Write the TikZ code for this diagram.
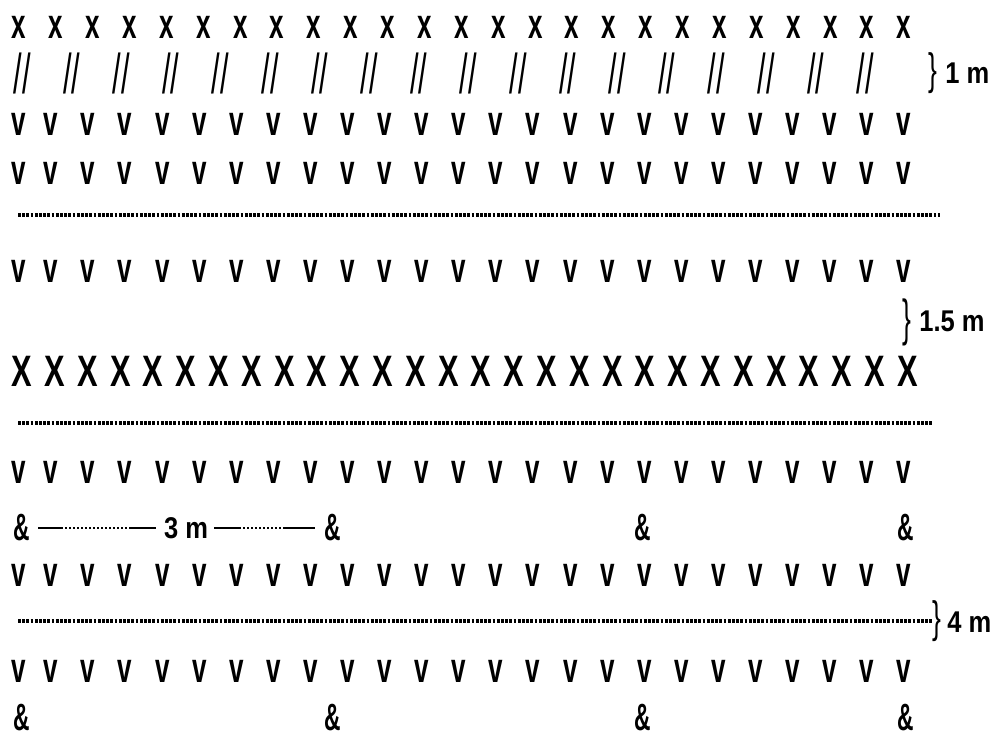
\documentclass[tikz,border=0pt]{standalone}
\usepackage{fontspec}
\setmainfont{Liberation Sans}
\begin{document}
\begin{tikzpicture}[x=0.5pt, y=-0.5pt,
    plant/.style={inner sep=0pt, xscale=0.62, font=\bfseries\fontsize{21}{21}\selectfont},
    hedge/.style={inner sep=0pt, xscale=0.7, font=\bfseries\fontsize{22}{22}\selectfont},
    stake/.style={inner sep=0pt, xscale=0.55, font=\fontsize{28}{28}\selectfont},
    tree/.style={inner sep=0pt, xscale=0.6, font=\bfseries\fontsize{19}{19}\selectfont},
    dimtext/.style={inner sep=0pt, xscale=0.85, font=\bfseries\fontsize{15}{15}\selectfont},
    brace/.style={inner sep=0pt, xscale=0.6, font=\fontsize{22}{22}\selectfont},
    rowline/.style={line width=1.9pt, dash pattern=on 1.4pt off 0.7pt},
    dimleft/.style={line width=1.1pt, shorten <=4pt, shorten >=4pt,
        dash pattern=on 12.5pt off 1pt on 1pt off 1pt on 1pt off 1pt on 1pt off 1pt on 1pt off 1pt
        on 1pt off 1pt on 1pt off 1pt on 1pt off 1pt on 1pt off 1pt on 1pt off 1pt on 1pt off 1pt
        on 1pt off 1pt on 1pt off 1pt on 1pt off 1pt on 1pt off 1pt on 1pt off 1pt on 1pt off 1pt
        on 30pt off 1pt},
    dimright/.style={line width=1.1pt, shorten <=3pt, shorten >=5pt,
        dash pattern=on 13.5pt off 1pt on 1pt off 1pt on 1pt off 1pt on 1pt off 1pt on 1pt off 1pt
        on 1pt off 1pt on 1pt off 1pt on 1pt off 1pt on 1pt off 1pt on 1pt off 1pt on 1pt off 1pt
        on 30pt off 1pt}]
    \useasboundingbox (0,0) rectangle (992,737);

    % Top block: small x row and stakes
    \foreach \i in {0,...,24}
        \node[plant] (xa\i) at ({19+\i*36.875},27) {x};
    \foreach \i in {0,...,17}
        \node[stake] (sl\i) at ({22+\i*49.6},73) {//};
    \node[brace] (br1) at (933,73) {\}};
    \node[dimtext, anchor=west] (lbl1m) at (945,73) {1 m};

    % v rows (first gap is narrower)
    \foreach \r/\y in {a/124, b/173, c/271, d/472, e/575, f/671} {
        \node[plant] (v\r0) at (19,\y) {v};
        \foreach \i in {1,...,24}
            \node[plant] (v\r\i) at ({51+(\i-1)*37.09},\y) {v};
    }

    % Dotted row lines
    \draw[rowline] (18,215) -- (940,215);
    \draw[rowline] (18,423) -- (932,423);
    \draw[rowline] (18,621) -- (933,621);

    % Middle block: capital X hedge
    \node[brace, yscale=1.15] (br2) at (907,322) {\}};
    \node[dimtext, anchor=west] (lbl15m) at (919,321) {1.5 m};
    \foreach \i in {0,...,27}
        \node[hedge] (X\i) at ({22+\i*32.8},371) {X};

    % Trees with 3 m spacing
    \foreach \n/\x in {a/22, b/333, c/643, d/906} {
        \node[tree] (amp8\n) at (\x,528) {\&};
        \node[tree] (amp11\n) at (\x,718) {\&};
    }
    \node[dimtext] (lbl3m) at (186,528) {3 m};
    \draw[dimleft] (amp8a) -- (lbl3m);
    \draw[dimright] (lbl3m) -- (amp8b);

    % 4 m label
    \node[brace] (br3) at (937,621) {\}};
    \node[dimtext, anchor=west] (lbl4m) at (947,622) {4 m};
\end{tikzpicture}
\end{document}
